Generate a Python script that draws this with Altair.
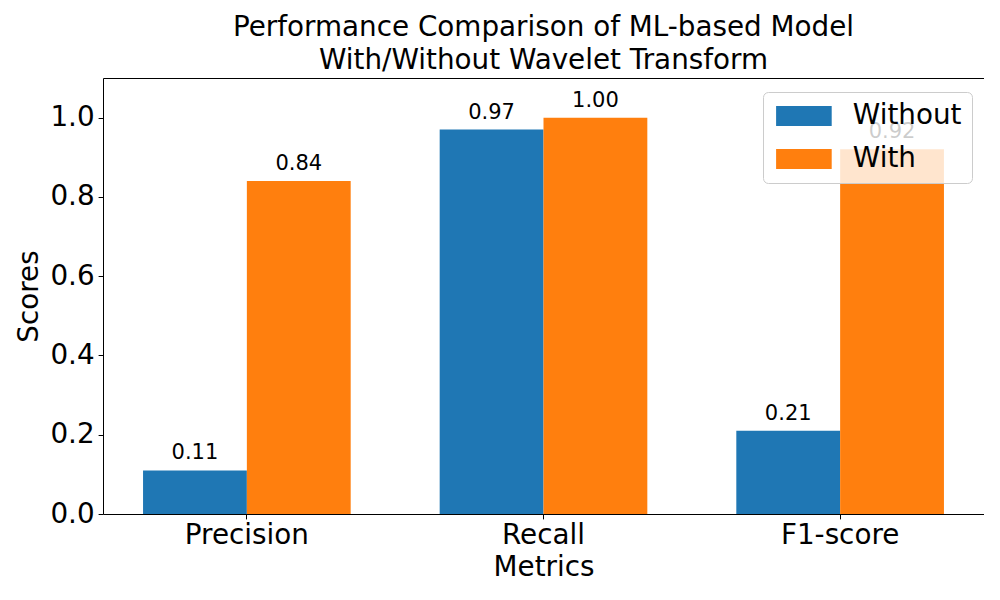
import altair as alt
import pandas as pd

metrics = ["Precision", "Recall", "F1-score"]
without_vals = [0.11, 0.97, 0.21]
with_vals = [0.84, 1.00, 0.92]
series_names = ["Without", "With"]
colors = ["#1f77b4", "#ff7f0e"]
y_ticks = [0.0, 0.2, 0.4, 0.6, 0.8, 1.0]

rows = []
for m, a, b in zip(metrics, without_vals, with_vals):
    rows.append({"Metric": m, "Series": "Without", "Score": a})
    rows.append({"Metric": m, "Series": "With", "Score": b})
df = pd.DataFrame(rows)

FONT = "DejaVu Sans"
BIG = 27.8

x_enc = alt.X(
    "Metric:N",
    sort=metrics,
    scale=alt.Scale(paddingInner=0.3, paddingOuter=0.135),
    axis=alt.Axis(
        title="Metrics",
        labelAngle=0,
        labelFontSize=BIG,
        titleFontSize=BIG,
        titleFontWeight="normal",
        labelColor="black",
        titleColor="black",
        tickColor="black",
        tickSize=4.9,
        labelPadding=3,
        titlePadding=4,
        domain=False,
        grid=False,
    ),
)
xoff = alt.XOffset("Series:N", sort=series_names, scale=alt.Scale(paddingInner=0, paddingOuter=0))
y_enc = alt.Y(
    "Score:Q",
    scale=alt.Scale(domain=[0, 1.1], nice=False, zero=True),
    axis=alt.Axis(
        title="Scores",
        values=y_ticks,
        format=".1f",
        labelFontSize=BIG,
        titleFontSize=BIG,
        titleFontWeight="normal",
        labelColor="black",
        titleColor="black",
        tickColor="black",
        tickSize=4.9,
        labelPadding=4,
        titlePadding=6,
        domain=False,
        grid=False,
    ),
)

bars = alt.Chart(df).mark_bar().encode(
    x=x_enc,
    xOffset=xoff,
    y=y_enc,
    color=alt.Color(
        "Series:N",
        sort=series_names,
        scale=alt.Scale(domain=series_names, range=colors),
        legend=alt.Legend(
            title=None,
            orient="none",
            legendX=660,
            legendY=14,
            labelFontSize=BIG,
            labelColor="black",
            symbolType="M-2.78,-1L2.78,-1L2.78,1L-2.78,1Z",
            symbolSize=400,
            symbolOffset=17,
            symbolStrokeWidth=0,
            symbolOpacity=1,
            labelOffset=35,
            rowPadding=14,
            padding=10,
            fillColor="rgba(255,255,255,0.8)",
            strokeColor="#cccccc",
            cornerRadius=5,
            zindex=5,
        ),
    ),
)

labels = alt.Chart(df).mark_text(
    baseline="alphabetic", align="center", dy=-11, fontSize=21, font=FONT, color="black"
).encode(
    x=alt.X("Metric:N", sort=metrics),
    xOffset=alt.XOffset("Series:N", sort=series_names),
    y=alt.Y("Score:Q"),
    text=alt.Text("Score:Q", format=".2f"),
)

chart = (
    alt.layer(bars, labels)
    .properties(
        width=881,
        height=436,
        title=alt.TitleParams(
            text=["Performance Comparison of ML-based Model", "With/Without Wavelet Transform"],
            fontSize=BIG,
            fontWeight="normal",
            font=FONT,
            color="black",
            anchor="middle",
            lineHeight=33,
            offset=3,
        ),
        autosize=alt.AutoSizeParams(type="none"),
        padding={"left": 95, "top": 70, "right": 0, "bottom": 76},
    )
    .configure(font=FONT)
    .configure_view(stroke="black", strokeWidth=1)
    .configure_axis(labelFont=FONT, titleFont=FONT)
    .configure_legend(labelFont=FONT)
)

chart.save("out.html", embed_options={"renderer": "svg", "actions": False})
